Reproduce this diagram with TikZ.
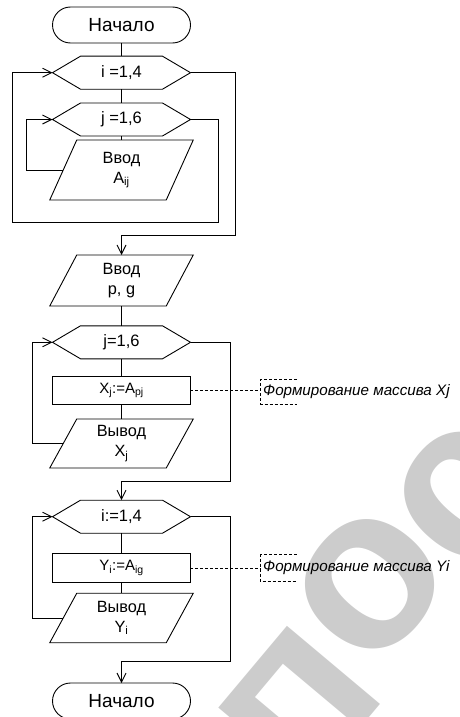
\documentclass[tikz,border=0pt]{standalone}
\usepackage{fontspec}
\setmainfont{Liberation Sans}
\usetikzlibrary{arrows.meta,calc}
\begin{document}
\begin{tikzpicture}[x=1pt,y=-1pt,
  line width=0.9pt,
  every node/.style={inner sep=0pt, outer sep=0pt},
  term/.style={draw, rectangle, rounded corners=18pt, minimum width=138pt, minimum height=36pt, font=\fontsize{19}{21}\selectfont},
  hexa/.style={minimum width=138pt, minimum height=33pt, font=\fontsize{16.5}{19}\selectfont},
  iobox/.style={minimum width=116.5pt, minimum height=#1, align=center, font=\fontsize{16.3}{20}\selectfont},
  procbox/.style={draw, minimum width=137.3pt, minimum height=#1, font=\fontsize{15}{17}\selectfont},
  note/.style={anchor=west, minimum height=#1, inner xsep=2.5pt, font=\itshape\fontsize{15.2}{17}\selectfont},
  wmark/.style={rotate=50, text=black!20, font=\bfseries\fontsize{230}{230}\selectfont},
  flow/.style={-{Straight Barb[length=9pt,width=9pt,line width=0.9pt]}},
  link/.style={dash pattern=on 3pt off 2pt, line width=0.7pt},
]
\useasboundingbox (0,0) rectangle (460,717);
% watermark
\node[wmark] (wm1) at (300,706) {п};
\node[wmark] (wm2) at (370,585) {о};
\node[wmark] (wm3) at (466,496) {с};

% nodes
\node[term] (start) at (121.5,25) {Начало};
\node[hexa] (hI) at (121.5,72.7) {i =1,4};
\node[hexa] (hJ) at (121.5,119.5) {j =1,6};
\node[iobox=60pt] (inA) at (121.5,170) {Ввод\\A\textsubscript{ij}};
\node[iobox=51pt] (inPG) at (121.5,280.5) {Ввод\\p, g};
\node[hexa] (hJ2) at (121.5,342.3) {j=1,6};
\node[procbox=28pt] (rX) at (121.5,390.5) {X\textsubscript{j}:=A\textsubscript{pj}};
\node[iobox=49pt] (outX) at (121.5,443.5) {Вывод\\X\textsubscript{j}};
\node[hexa] (hI2) at (121.5,516.7) {i:=1,4};
\node[procbox=28.5pt] (rY) at (121.5,568) {Y\textsubscript{i}:=A\textsubscript{ig}};
\node[iobox=49.5pt] (outY) at (121.5,618) {Вывод\\Y\textsubscript{i}};
\node[term] (fin) at (121.5,701) {Начало};
\node[note=25pt] (cX) at (260.7,391.5) {Формирование массива Xj};
\node[note=27pt] (cY) at (260.7,568) {Формирование массива Yi};

% hexagon outlines
\foreach \h in {hI,hJ,hJ2,hI2}
  \draw (\h.west) -- ([xshift=28pt]\h.north west) -- ([xshift=-28pt]\h.north east) -- (\h.east)
        -- ([xshift=-28pt]\h.south east) -- ([xshift=28pt]\h.south west) -- cycle;
% parallelogram outlines
\foreach \p in {inA,inPG,outX,outY}
  \draw ([xshift=13.5pt]\p.north west) -- ([xshift=13.5pt]\p.north east)
        -- ([xshift=-13.5pt]\p.south east) -- ([xshift=-13.5pt]\p.south west) -- cycle;

% connectors
\draw (start.south) -- (hI.north);
\draw (hI.south) -- (hJ.north);
\draw (hJ.south) -- (inA.north);
\draw[flow] (inA.west) -- ++(-36.5,0) |- (hJ.west);
\draw[flow] (hJ.east) -- ++(27.5,0) -- ++(0,102.5) -- ++(-206,0) |- (hI.west);
\draw[flow] (hI.east) -- ++(45,0) -- ++(0,162.3) -| (inPG.north);
\draw (inPG.south) -- (hJ2.north);
\draw (hJ2.south) -- (rX.north);
\draw (rX.south) -- (outX.north);
\draw[flow] (outX.west) -- ++(-30.75,0) |- (hJ2.west);
\draw[flow] (hJ2.east) -- ++(39.5,0) -- ++(0,139.4) -| (hI2.north);
\draw (hI2.south) -- (rY.north);
\draw (rY.south) -- (outY.north);
\draw[flow] (outY.west) -- ++(-30.75,0) |- (hI2.west);
\draw[flow] (hI2.east) -- ++(39.5,0) -- ++(0,145) -| (fin.north);

% comments
\draw[link] (rX.east) -- (rX.east -| cX.west);
\draw[link] ([xshift=36pt]cX.north west) -- (cX.north west) -- (cX.south west) -- ([xshift=36pt]cX.south west);
\draw[link] (rY.east) -- (rY.east -| cY.west);
\draw[link] ([xshift=36pt]cY.north west) -- (cY.north west) -- (cY.south west) -- ([xshift=36pt]cY.south west);
\end{tikzpicture}
\end{document}
